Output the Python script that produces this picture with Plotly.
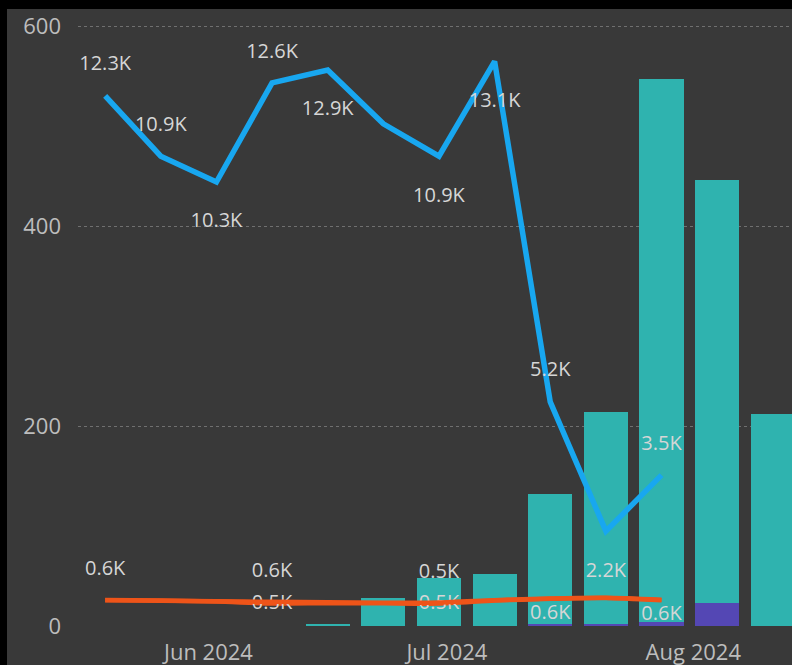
import plotly.graph_objects as go

# Weekly periods (week starting Sunday)
weeks = [
    "2024-05-19", "2024-05-26", "2024-06-02", "2024-06-09", "2024-06-16",
    "2024-06-23", "2024-06-30", "2024-07-07", "2024-07-14", "2024-07-21",
    "2024-07-28", "2024-08-04", "2024-08-11",
]

# Stacked column series (primary axis)
bar_weeks = weeks[4:]
teal_vals = [2, 28, 48, 52, 130, 212, 543, 423, 212]
purple_vals = [0, 0, 0, 0, 2, 2, 4, 23, 0]

# Line series (secondary axis)
line_weeks = weeks[:11]
blue_vals = [12300, 10900, 10300, 12600, 12900, 11650, 10900, 13100, 5200, 2200, 3500]
orange_a_vals = [605, 590, 575, 560, 550, 540, 545, 600, 640, 655, 610]
orange_b_vals = [600, 585, 570, 520, 530, 525, 520, 590, 630, 650, 600]

# Which points carry a data label
blue_show = [1, 1, 1, 1, 1, 0, 1, 1, 1, 1, 1]
orange_a_show = [1, 0, 0, 1, 0, 0, 1, 0, 0, 0, 0]
orange_b_show = [0, 0, 0, 1, 0, 0, 1, 0, 1, 0, 1]

blue_pos = ["top center", "top center", "bottom center", "top center", "bottom center",
            "top center", "bottom center", "bottom center", "top center", "bottom center",
            "top center"]
orange_b_pos = ["middle center"] * 8 + ["bottom center", "bottom center", "bottom center"]


def kfmt(v):
    return f"{v / 1000:.1f}K"


def labels(vals, show):
    return [kfmt(v) if s else "" for v, s in zip(vals, show)]


def label_gap(positions, above, below):
    # invisible marker size sets how far a label sits from its point
    return [above if p.startswith("top") else below for p in positions]


BG = "#393939"
LABEL_FONT = dict(family="Open Sans, Noto Sans, sans-serif", size=20, color="#d6d6d6")
AXIS_FONT = dict(family="Open Sans, Noto Sans, sans-serif", size=22, color="#bdbdbd")
HIDDEN_MARKER = dict(color="rgba(0,0,0,0)", line=dict(width=0, color="rgba(0,0,0,0)"))
DAY_MS = 86400000

fig = go.Figure()

fig.add_trace(go.Bar(x=bar_weeks, y=purple_vals, marker_color="#5447b4",
                     width=5.55 * DAY_MS, marker_line_width=0, hoverinfo="skip"))
fig.add_trace(go.Bar(x=bar_weeks, y=teal_vals, marker_color="#2fb3af",
                     width=5.55 * DAY_MS, marker_line_width=0, hoverinfo="skip"))

fig.add_trace(go.Scatter(
    x=line_weeks, y=orange_b_vals, yaxis="y2", mode="lines+markers+text",
    line=dict(color="#ee5419", width=4.5, shape="spline", smoothing=0.6),
    marker=dict(size=6, **HIDDEN_MARKER),
    text=labels(orange_b_vals, orange_b_show), textposition=orange_b_pos,
    textfont=LABEL_FONT, hoverinfo="skip"))
fig.add_trace(go.Scatter(
    x=line_weeks, y=orange_a_vals, yaxis="y2", mode="lines+markers+text",
    line=dict(color="#ee5419", width=4.5, shape="spline", smoothing=0.6),
    marker=dict(size=30, **HIDDEN_MARKER),
    text=labels(orange_a_vals, orange_a_show), textposition="top center",
    textfont=LABEL_FONT, hoverinfo="skip"))
fig.add_trace(go.Scatter(
    x=line_weeks, y=blue_vals, yaxis="y2", mode="lines+markers+text",
    line=dict(color="#18a7f0", width=5.5),
    marker=dict(size=label_gap(blue_pos, 31, 47), **HIDDEN_MARKER),
    text=labels(blue_vals, blue_show), textposition=blue_pos,
    textfont=LABEL_FONT, hoverinfo="skip"))

Y_TOP = 616
SCALE2 = 23.2

fig.update_layout(
    width=792, height=665,
    margin=dict(l=78, r=0, t=10, b=39),
    paper_bgcolor=BG, plot_bgcolor=BG,
    barmode="stack", showlegend=False,
    xaxis=dict(type="date", range=["2024-05-15 14:00", "2024-08-13 10:00"],
               dtick="M1", tick0="2024-06-01", tickformat="%b %Y",
               showgrid=False, zeroline=False, showline=False, ticks="",
               tickfont=AXIS_FONT, ticklabelstandoff=11),
    yaxis=dict(range=[0, Y_TOP], tickvals=[0, 200, 400, 600],
               showgrid=True, gridcolor="#707070", griddash="dot", gridwidth=1,
               zeroline=False, showline=False, ticks="",
               tickfont=AXIS_FONT, ticklabelstandoff=16),
    yaxis2=dict(range=[0, Y_TOP * SCALE2], overlaying="y", side="right",
                visible=False, showgrid=False),
    shapes=[
        dict(type="rect", xref="paper", yref="paper", layer="above",
             x0=-0.2, x1=-71 / 714, y0=-0.2, y1=1.2,
             fillcolor="black", line_width=0),
        dict(type="rect", xref="paper", yref="paper", layer="above",
             x0=-0.2, x1=1.2, y0=1 + 1 / 616, y1=1.2,
             fillcolor="black", line_width=0),
    ],
)

fig.write_html("out.html")
